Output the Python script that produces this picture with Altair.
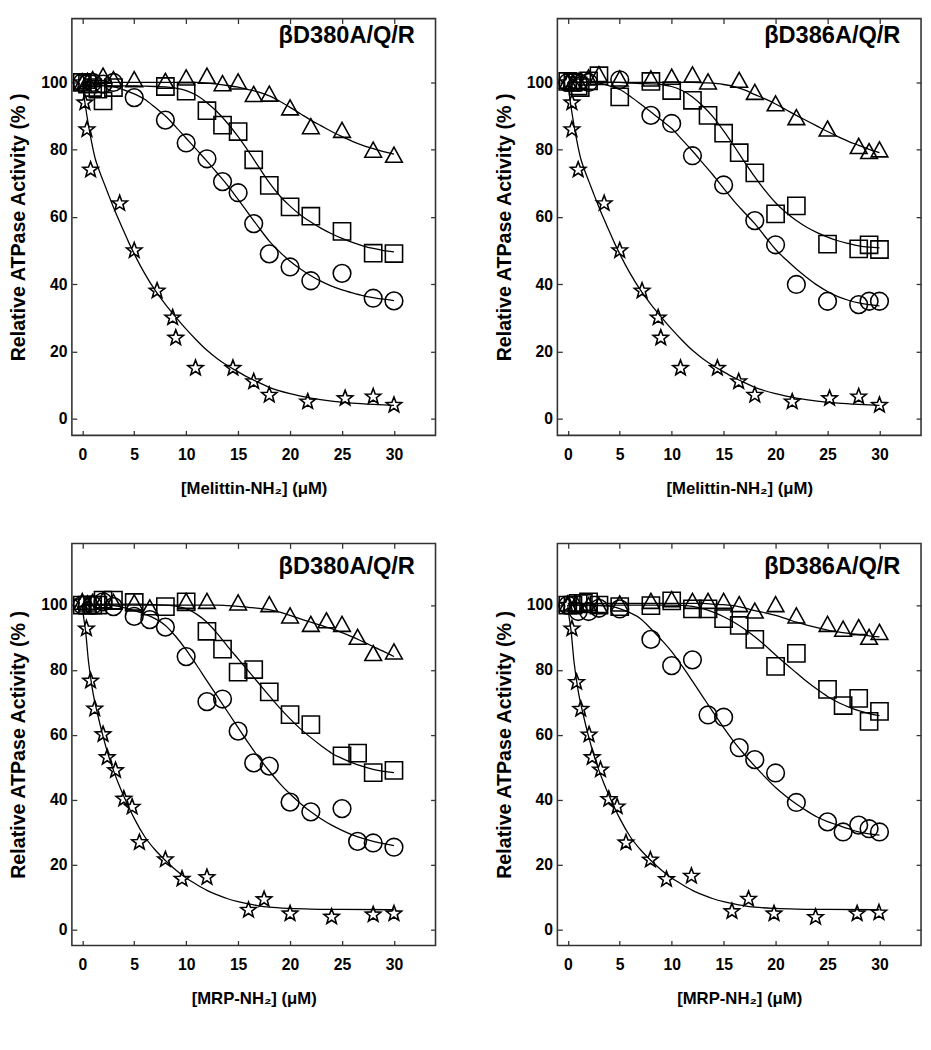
import math
import altair as alt
import pandas as pd

# ---------------- axis / text content ----------------
X_TICKS = [0, 5, 10, 15, 20, 25, 30]
Y_TICKS = [0, 20, 40, 60, 80, 100]
SERIES = ["circle", "square", "triangle", "star"]
PANEL_LABELS = ["βD380A/Q/R", "βD386A/Q/R", "βD380A/Q/R", "βD386A/Q/R"]
X_TITLES = ["[Melittin-NH₂] (μM)", "[Melittin-NH₂] (μM)", "[MRP-NH₂] (μM)", "[MRP-NH₂] (μM)"]
Y_TITLE = "Relative ATPase Activity (% )"

# ---------------- measured points ----------------
# Panel 1: Melittin, bD380
P1_CIR_X = [0, 1, 2, 3, 5, 8, 10, 12, 13.5, 15, 16.5, 18, 20, 22, 25, 28, 30]
P1_CIR_Y = [100, 100, 99.5, 100, 95.5, 88.8, 82, 77.3, 70.5, 67.2, 58, 49, 45.1, 41, 43.2, 35.8, 35]
P1_SQ_X = [0, 0.5, 1, 1.5, 2, 3, 8, 10, 12, 13.5, 15, 16.5, 18, 20, 22, 25, 28, 30]
P1_SQ_Y = [100, 99.5, 98.5, 98, 94.5, 98.5, 98.8, 97.4, 91.6, 87.3, 85.4, 77, 69.4, 63, 60.2, 55.7, 49.2, 49.1]
P1_TRI_X = [0, 0.5, 1, 2, 3, 5, 8, 10, 12, 13.5, 15, 16.5, 18, 20, 22, 25, 28, 30]
P1_TRI_Y = [100, 100.5, 101, 102, 101, 101, 100.5, 101.5, 102, 99.8, 100.3, 96.6, 96.7, 92.6, 87, 85.9, 80, 78.5]
P1_STAR_X = [0, 0.25, 0.45, 0.8, 3.6, 5, 7.2, 8.7, 9, 10.9, 14.5, 16.5, 18, 21.7, 25.3, 28, 30]
P1_STAR_Y = [100, 94, 86, 74, 64, 50, 38, 30, 24, 15, 15, 11, 7, 5, 6, 6.5, 4]

# Panel 2: Melittin, bD386
P2_CIR_X = [0, 0.5, 1, 2, 5, 8, 10, 12, 15, 18, 20, 22, 25, 28, 29, 30]
P2_CIR_Y = [100, 100, 100, 100, 100.8, 90.2, 87.8, 78.2, 69.5, 58.9, 51.7, 39.9, 34.9, 33.9, 34.9, 34.9]
P2_SQ_X = [0, 0.5, 1, 1.2, 2, 3, 5, 8, 10, 12, 13.5, 15, 16.5, 18, 20, 22, 25, 28, 29, 30]
P2_SQ_Y = [100.3, 100, 99, 98.5, 100.5, 102, 95.7, 100.3, 97.6, 94.7, 90.2, 84.9, 79.1, 73.1, 60.9, 63.3, 51.9, 50.5, 51.7, 50.3]
P2_TRI_X = [0, 0.5, 1, 2, 3, 5, 8, 10, 12, 13.5, 16.5, 18, 20, 22, 25, 28, 29, 30]
P2_TRI_Y = [100.5, 100, 100.5, 101.5, 102.5, 101.2, 101.2, 101.7, 102.4, 100.3, 100.8, 97.2, 93.8, 89.7, 86.3, 81.1, 79.6, 80.1]
P2_STAR_X = [0, 0.4, 0.4, 1.0, 3.5, 5, 7.15, 8.7, 8.95, 10.85, 14.4, 16.45, 18, 21.6, 25.2, 28, 30]
P2_STAR_Y = [100, 94, 86, 74, 64, 50, 38, 30, 24, 15, 15, 11, 7, 5, 6, 6.5, 4]

# Panel 3: MRP, bD380
P3_CIR_X = [0, 1, 2, 3, 5, 6.5, 8, 10, 12, 13.5, 15, 16.5, 18, 20, 22, 25, 26.5, 28, 30]
P3_CIR_Y = [100, 100, 101, 99.5, 96.5, 95.5, 93.2, 84.1, 70.2, 71, 61.1, 51.3, 50.3, 39.2, 36.2, 37.2, 27.1, 26.6, 25.3]
P3_SQ_X = [0, 0.5, 1, 1.5, 2, 3, 5, 8, 10, 12, 13.5, 15, 16.5, 18, 20, 22, 25, 26.5, 28, 30]
P3_SQ_Y = [100, 100, 100, 100, 101.5, 101.5, 100.8, 99.5, 101, 91.9, 86.4, 79.3, 80.1, 73.2, 66.2, 63.1, 53.5, 54.3, 48.3, 49]
P3_TRI_X = [0, 0.5, 1, 2, 3, 5, 6.5, 10, 12, 15, 18, 20, 22, 23.5, 25, 26.5, 28, 30]
P3_TRI_Y = [101, 100.5, 101, 101.5, 101, 100.8, 99.3, 101.3, 101.3, 100.8, 100.3, 96.8, 94.2, 95.3, 94.2, 90.2, 85.2, 85.7]
P3_STAR_X = [0, 0.4, 0.8, 1.2, 2, 2.4, 3.2, 4, 4.8, 5.5, 8, 9.6, 12, 16, 17.5, 20, 24, 28, 30]
P3_STAR_Y = [101, 92.7, 76.6, 68, 60.1, 53, 49, 40.2, 37.7, 26.8, 21.5, 15.5, 16, 5.9, 9.2, 4.8, 3.8, 4.5, 4.8]

# Panel 4: MRP, bD386
P4_CIR_X = [0, 1, 2, 3, 5, 8, 10, 12, 13.5, 15, 16.5, 18, 20, 22, 25, 26.5, 28, 29, 30]
P4_CIR_Y = [100, 98, 98, 99, 98.8, 89.4, 81.3, 83.1, 66.1, 65.4, 56, 52.3, 48.2, 39.1, 33.1, 30, 32.1, 31, 30]
P4_SQ_X = [0, 0.5, 1, 1.5, 2, 3, 5, 8, 10, 12, 13.5, 15, 16.5, 18, 20, 22, 25, 26.5, 28, 29, 30]
P4_SQ_Y = [100, 100, 100.5, 100.5, 101, 100, 99.5, 99.8, 101.3, 98.8, 98.8, 95.8, 93.7, 89.4, 81.1, 85.1, 74, 69, 71.2, 64.1, 67.2]
P4_TRI_X = [0, 0.8, 2, 3, 5, 8, 10, 12, 13.5, 15, 16.5, 18, 20, 22, 25, 26.5, 28, 29, 30]
P4_TRI_Y = [100.5, 100.5, 100, 100, 100.5, 101.3, 101.8, 101.3, 101.3, 101.3, 100.3, 98.3, 100.3, 96.8, 94.2, 92.7, 93.2, 90.2, 91.7]
P4_STAR_X = [0, 0.4, 0.85, 1.25, 2.05, 2.35, 3.15, 3.95, 4.75, 5.6, 7.95, 9.5, 11.9, 15.8, 17.4, 19.85, 23.85, 27.85, 29.95]
P4_STAR_Y = [100, 92.7, 76.2, 67.9, 60, 53, 49.2, 40.1, 37.8, 26.7, 21.4, 15.4, 16.4, 5.5, 9.3, 4.8, 3.7, 4.8, 5.1]

# ---------------- fitted curves ----------------
CURVE_X = [0, 1, 2, 3, 4, 5, 6, 7, 8, 9, 10, 11, 12, 13, 14, 15, 16, 17, 18, 19, 20,
           21, 22, 23, 24, 25, 26, 27, 28, 29, 30]
C1_CIR = [99.5, 99.5, 99.2, 98.8, 97.8, 96.6, 95, 92.6, 90, 86.8, 83.4, 80, 76.6, 73, 69.3, 65.2,
          61, 56.8, 52.8, 49.6, 46.8, 44.5, 42.5, 40.8, 39.4, 38.3, 37.4, 36.6, 36, 35.5, 35.1]
C1_SQ = [99, 99, 99, 99, 99, 99, 98.9, 98.8, 98.7, 98.3, 97.6, 96.2, 94, 91.2, 87.8, 83.9,
         79.5, 74.8, 70.2, 66.3, 63.2, 60.6, 58.5, 56.6, 55, 53.6, 52.4, 51.4, 50.6, 50, 49.6]
C1_TRI = [100, 100, 100, 100, 100, 100, 100, 100, 100, 100, 100, 100, 99.8, 99.5, 99.1, 98.6,
          97.9, 97.1, 96, 94.4, 92.6, 90.7, 88.8, 87.1, 85.4, 83.9, 82.5, 81.3, 80.3, 79.4, 78.7]
C2_CIR = [100, 100, 100, 99.8, 99, 97.9, 95.9, 93.6, 91.2, 88.8, 86.3, 83, 79.6, 76, 72.4, 68.5,
          64.7, 61.3, 58, 54.1, 50.3, 47.3, 44.5, 42, 39.7, 37.8, 36.3, 35.2, 34.4, 33.9, 33.5]
C2_SQ = [100, 100, 100, 100, 100, 100, 99.8, 99.7, 99.6, 99.4, 98.8, 97.6, 95.7, 93, 89.7, 85.6,
         81.1, 76.4, 71.9, 67.8, 64.2, 61.3, 58.9, 56.9, 55.3, 54, 52.9, 52.1, 51.4, 51, 50.8]
C2_TRI = [100, 100, 100, 100, 100, 100, 100, 100, 100, 100, 100, 100, 100, 99.9, 99.8, 99.4,
          98.8, 97.8, 96.4, 95.1, 93.6, 91.9, 90.2, 88.6, 87, 85.4, 83.9, 82.5, 81.3, 80.1, 79.1]
C3_CIR = [100, 100, 100, 99.8, 99.2, 98.3, 97.2, 95.8, 93.7, 90.3, 86.2, 81.5, 76.6, 71.8, 67, 62.2,
          57.4, 52.9, 48.8, 45, 41.7, 38.8, 36.2, 34, 32.1, 30.5, 29.1, 28, 27.1, 26.4, 25.8]
C3_SQ = [100.3, 100.3, 100.3, 100.3, 100.3, 100.3, 100.2, 100.1, 100, 99.7, 98.9, 97.2, 94.7, 91.2, 87.2, 83.4,
         79.6, 75.8, 72, 68.3, 64.9, 61.8, 59.1, 56.6, 54.3, 52.7, 51.3, 50.2, 49.3, 48.7, 48.3]
C3_TRI = [100, 100, 100, 100, 100, 100, 100, 100, 100, 100, 100, 100, 100, 100, 99.8, 99.6,
          99.3, 99, 98.6, 97.8, 96.8, 95.7, 94.7, 93.7, 92.7, 91.5, 90.2, 88.7, 87.2, 85.7, 84.1]
C4_CIR = [100, 100, 100, 99.8, 99.7, 98.9, 97.6, 95.8, 92.7, 89.3, 85.6, 81.2, 76.5, 71.7, 66.9, 62.2,
          57.8, 53.9, 50.3, 46.9, 43.7, 41, 38.6, 36.5, 34.6, 33.2, 32.1, 31, 30, 29.4, 29]
C4_SQ = [100, 100, 100, 100, 100, 100, 100, 100, 100, 100, 100, 99.9, 99.6, 98.9, 97.8, 96.4,
         94.7, 92.6, 90.2, 87.5, 84.6, 81.8, 79.1, 76.4, 74, 71.8, 70, 68.6, 67.4, 66.5, 65.9]
C4_TRI = [100.5, 100.5, 100.5, 100.5, 100.5, 100.5, 100.5, 100.5, 100.5, 100.5, 100.5, 100.5, 100.5, 100.5, 100.3, 100.1,
          99.8, 99.1, 98.3, 97.6, 96.8, 95.8, 94.7, 93.8, 93, 92.3, 91.7, 91.3, 90.9, 90.5, 90.2]
# star curves (steep near zero, so read on a finer grid)
SC_MEL_X = [0, 0.2, 0.4, 0.6, 0.8, 1.0, 1.25, 1.5, 2.0, 2.5, 3.0, 3.5, 4.0, 4.5, 5.0, 6, 7, 8, 9, 10,
            11, 12, 13, 14, 15, 16, 17, 18, 20, 22, 24, 26, 28, 30]
SC_MEL_Y = [100, 95.2, 91, 87.2, 83.8, 80.7, 77.3, 74.9, 70.8, 66.8, 62.9, 59.2, 55.7, 52.2, 49, 43.2,
            38.2, 34, 30.2, 26.6, 23.3, 20.3, 17.8, 15.7, 13.9, 12.2, 10.7, 9.3, 7.4, 6.1, 5.2, 4.6, 4.2, 3.9]
SC_MRP_X = [0, 0.1, 0.3, 0.6, 1.0, 1.5, 2.0, 2.5, 3.0, 3.5, 4.0, 4.5, 5.0, 6, 7, 8, 9, 10, 11,
            12, 13, 14, 15, 16, 17, 18, 20, 22, 25, 30]
SC_MRP_Y = [100, 97, 92.5, 82.5, 73.5, 66, 59.5, 53.8, 49, 44.8, 41, 37.5, 34.2, 28.6, 24.5, 21.2, 18.3,
            15.8, 13.8, 12, 10.6, 9.4, 8.5, 7.8, 7.2, 6.8, 6.4, 6.2, 6.1, 6]

POINTS = [
    {"circle": (P1_CIR_X, P1_CIR_Y), "square": (P1_SQ_X, P1_SQ_Y), "triangle": (P1_TRI_X, P1_TRI_Y), "star": (P1_STAR_X, P1_STAR_Y)},
    {"circle": (P2_CIR_X, P2_CIR_Y), "square": (P2_SQ_X, P2_SQ_Y), "triangle": (P2_TRI_X, P2_TRI_Y), "star": (P2_STAR_X, P2_STAR_Y)},
    {"circle": (P3_CIR_X, P3_CIR_Y), "square": (P3_SQ_X, P3_SQ_Y), "triangle": (P3_TRI_X, P3_TRI_Y), "star": (P3_STAR_X, P3_STAR_Y)},
    {"circle": (P4_CIR_X, P4_CIR_Y), "square": (P4_SQ_X, P4_SQ_Y), "triangle": (P4_TRI_X, P4_TRI_Y), "star": (P4_STAR_X, P4_STAR_Y)},
]
CURVES = [
    {"circle": (CURVE_X, C1_CIR), "square": (CURVE_X, C1_SQ), "triangle": (CURVE_X, C1_TRI), "star": (SC_MEL_X, SC_MEL_Y)},
    {"circle": (CURVE_X, C2_CIR), "square": (CURVE_X, C2_SQ), "triangle": (CURVE_X, C2_TRI), "star": (SC_MEL_X, SC_MEL_Y)},
    {"circle": (CURVE_X, C3_CIR), "square": (CURVE_X, C3_SQ), "triangle": (CURVE_X, C3_TRI), "star": (SC_MRP_X, SC_MRP_Y)},
    {"circle": (CURVE_X, C4_CIR), "square": (CURVE_X, C4_SQ), "triangle": (CURVE_X, C4_TRI), "star": (SC_MRP_X, SC_MRP_Y)},
]


def to_frame(spec):
    rows = []
    for s, (xs, ys) in spec.items():
        for xv, yv in zip(xs, ys):
            rows.append({"series": s, "x": xv, "y": yv})
    return pd.DataFrame(rows)


# ---------------- marker styles ----------------
def star_path(r_in=0.42):
    pts = []
    for k in range(10):
        ang = math.radians(-90 + 36 * k)
        r = 1.0 if k % 2 == 0 else r_in
        pts.append(f"{r * math.cos(ang):.3f},{r * math.sin(ang):.3f}")
    return "M" + "L".join(pts) + "Z"


TRI_PATH = "M0,-0.9L1,0.9L-1,0.9Z"
SHAPE_RANGE = ["circle", "square", TRI_PATH, star_path()]
SIZE_RANGE = [324, 272, 282, 324]

FONT = "Liberation Sans"
FRAME = "#333333"
W = 370


def panel(i, height, label_y):
    pts = to_frame(POINTS[i])
    crv = to_frame(CURVES[i])
    xs = alt.Scale(domain=[-1, 34], nice=False, zero=False)
    ys = alt.Scale(domain=[-5, 119], nice=False, zero=False)

    x_main = alt.X("x:Q", scale=xs, axis=alt.Axis(
        orient="bottom", values=X_TICKS, offset=-5, tickSize=5, domain=False, grid=False,
        title=X_TITLES[i], labelPadding=12, titlePadding=18, titleFontSize=17))
    y_main = alt.Y("y:Q", scale=ys, axis=alt.Axis(
        orient="left", values=Y_TICKS, offset=-5, tickSize=5, domain=False, grid=False,
        title=Y_TITLE, labelPadding=5, titlePadding=12, titleFontSize=20))
    x_sec = alt.X("x:Q", scale=xs, axis=alt.Axis(
        orient="top", values=X_TICKS, offset=-5, tickSize=5, domain=False, grid=False,
        labels=False, title=None))
    y_sec = alt.Y("y:Q", scale=ys, axis=alt.Axis(
        orient="right", values=Y_TICKS, offset=-5, tickSize=5, domain=False, grid=False,
        labels=False, title=None))

    lines = alt.Chart(crv).mark_line(
        color="black", strokeWidth=1.3, interpolate="monotone"
    ).encode(x=x_main, y=y_main, detail="series:N", order="x:Q")

    points = alt.Chart(pts).mark_point(
        filled=False, color="black", strokeWidth=1.6, opacity=1
    ).encode(
        x=x_sec, y=y_sec,
        shape=alt.Shape("series:N", scale=alt.Scale(domain=SERIES, range=SHAPE_RANGE), legend=None),
        size=alt.Size("series:N", scale=alt.Scale(domain=SERIES, range=SIZE_RANGE), legend=None),
    )

    label = alt.Chart(pd.DataFrame({"t": [PANEL_LABELS[i]]})).mark_text(
        align="right", baseline="alphabetic", fontSize=24, fontWeight="bold", font=FONT, color="black"
    ).encode(text="t:N", x=alt.value(349), y=alt.value(label_y))

    return alt.layer(lines, points, label).resolve_axis(
        x="independent", y="independent"
    ).properties(width=W, height=height)


top = alt.hconcat(panel(0, 424, 25), panel(1, 424, 25), spacing=57)
bottom = alt.hconcat(panel(2, 409, 31), panel(3, 409, 31), spacing=57)

chart = alt.vconcat(top, bottom, spacing=45).properties(
    padding={"left": 0, "top": 0, "right": 0, "bottom": 0}
).configure_view(
    stroke=FRAME, strokeWidth=1.6
).configure_axis(
    labelFont=FONT, labelFontSize=16, labelFontWeight="bold", labelColor="black",
    titleFont=FONT, titleFontWeight="bold", titleColor="black",
    tickColor=FRAME, tickWidth=1.3
)

chart.save("out.html", embed_options={"renderer": "svg", "actions": False})
